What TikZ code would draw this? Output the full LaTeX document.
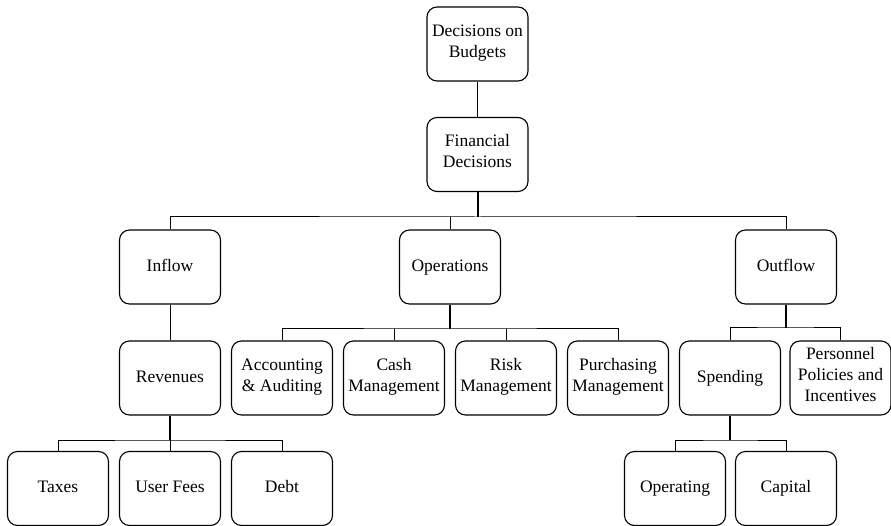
\documentclass[tikz,border=0pt]{standalone}
\usepackage{fontspec}
\setmainfont{Liberation Serif}
\begin{document}
\begin{tikzpicture}[x=1pt,y=-1pt,
  box/.style={draw, line width=1.1pt, rounded corners=10pt, minimum width=101pt,
    minimum height=74pt, inner sep=0pt, align=center,
    font=\fontsize{17.5}{21}\selectfont,
    execute at begin node=\strut, execute at end node=\strut},
  link/.style={line width=1pt},
  stem/.style={line width=2pt}]
\useasboundingbox (0,0) rectangle (891,526);

% level 0 and 1
\node[box] (dec) at (477.5,44) {Decisions on\\Budgets};
\node[box] (fin) at (477.5,154.5) {Financial\\Decisions};

% level 2
\node[box] (inflow) at (170,267) {Inflow};
\node[box] (ops) at (450,267) {Operations};
\node[box] (out) at (786,267) {Outflow};

% level 3
\node[box] (rev) at (170,378) {Revenues};
\node[box] (acc) at (282,378) {Accounting\\\& Auditing};
\node[box] (cash) at (394,378) {Cash\\Management};
\node[box] (risk) at (506,378) {Risk\\Management};
\node[box] (purch) at (618,378) {Purchasing\\Management};
\node[box] (spend) at (730,378) {Spending};
\node[box] (pers) at (840.5,378) {Personnel\\Policies and\\Incentives};

% level 4
\node[box] (tax) at (58,488.5) {Taxes};
\node[box] (fees) at (170,488.5) {User Fees};
\node[box] (debt) at (282,488.5) {Debt};
\node[box] (opg) at (675,488.5) {Operating};
\node[box] (cap) at (786,488.5) {Capital};

% bus junctions
\coordinate (finbus) at (477.5,217);
\coordinate (opsbus) at (450,329);
\coordinate (outbus) at (786,328);
\coordinate (revbus) at (170,440);
\coordinate (spbus) at (730,440);

% connectors
\draw[link] (dec.south) -- (fin.north);
\draw[stem] (fin.south) -- (finbus);
\draw[link] (inflow.north) |- (finbus) -| (out.north);
\draw[link] (ops.north) -- (ops.north |- finbus);

\draw[link] (inflow.south) -- (rev.north);

\draw[stem] (ops.south) -- (opsbus);
\draw[link] (acc.north) |- (opsbus) -| (purch.north);
\draw[link] (cash.north) -- (cash.north |- opsbus);
\draw[link] (risk.north) -- (risk.north |- opsbus);

\draw[stem] (out.south) -- (outbus);
\draw[link] (spend.north) |- (outbus) -| (pers.north);

\draw[stem] (rev.south) -- (revbus);
\draw[link] (tax.north) |- (revbus) -| (debt.north);
\draw[link] (fees.north) -- (revbus);

\draw[stem] (spend.south) -- (spbus);
\draw[link] (opg.north) |- (spbus) -| (cap.north);
\end{tikzpicture}
\end{document}
